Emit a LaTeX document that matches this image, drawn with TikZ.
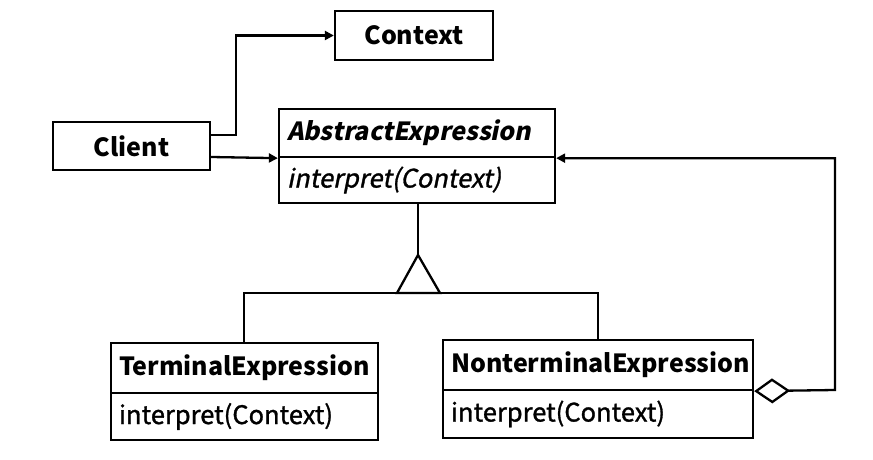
\documentclass[tikz,border=0pt]{standalone}
\usepackage{fontspec}
\setmainfont{Noto Sans CJK SC}[AutoFakeSlant=0.2]
\newfontfamily\medfont{Noto Sans CJK SC}[FakeBold=1.2,AutoFakeSlant=0.2]
\newfontfamily\slantfont{Noto Sans CJK SC}[FakeSlant=0.2]
\usetikzlibrary{arrows.meta}
\tikzset{
  box/.style={draw, line width=2.3pt, inner xsep=8pt, inner ysep=0pt, align=left, font=\fontsize{25.5}{28}\medfont},
  title/.style={box, font=\fontsize{25}{28}\selectfont\bfseries},
  conn/.style={line width=2.3pt},
  arr/.style={conn, -{Triangle[length=9pt,width=9pt]}},
}
\begin{document}
\begin{tikzpicture}[x=1pt,y=-1pt]
\useasboundingbox (0,0) rectangle (873,460);
\node[title, align=center, minimum width=158pt, minimum height=49pt] (ctx) at (414,35.5) {Context};
\node[title, align=center, minimum width=157pt, minimum height=48pt] (client) at (131.5,146) {Client};
\node[title, text width=260pt, minimum height=48pt, font=\fontsize{25}{28}\slantfont\bfseries] (abT) at (417,133) {AbstractExpression};
\node[box, text width=260pt, minimum height=46pt, font=\fontsize{25.5}{28}\medfont\itshape] (abB) at (417,180) {interpret(Context)};
\node[title, text width=251pt, minimum height=50pt] (teT) at (244.5,368) {TerminalExpression};
\node[box, text width=251pt, minimum height=47pt] (teB) at (244.5,416.5) {interpret(Context)};
\node[title, text width=294pt, minimum height=50pt] (ntT) at (598,365) {NonterminalExpression};
\node[box, text width=294pt, minimum height=48pt] (ntB) at (598,414) {interpret(Context)};
% client -> context
\draw[arr] (client.east |- 0,135) -- (236,135) |- (ctx.west);
% client -> abstract
\draw[arr] (client.east |- 0,157) -- (abT.south west);
% generalization
\coordinate (apex) at (418,255);
\coordinate (bl) at (397,293);
\coordinate (br) at (440,293);
\draw[conn] (abB.south -| apex) -- (apex);
\draw[conn, line join=miter] (apex) -- (bl) -- (br) -- cycle;
\draw[conn] (teT.north -| 244,0) -- (244,293) -- (598,293) -- (ntT.north -| 598,0);
% aggregation
\draw[conn, {Diamond[open,length=36pt,width=25pt]}-{Triangle[length=9pt,width=9pt]}] (ntT.south east) -- (835,390) |- (abT.south east);
\end{tikzpicture}
\end{document}
